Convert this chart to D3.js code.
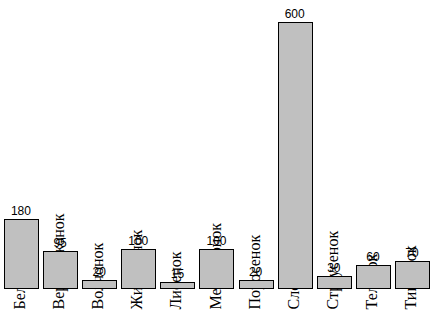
<!DOCTYPE html>
<html>
<head>
<meta charset="utf-8">
<script src="https://cdn.jsdelivr.net/npm/d3@7/dist/d3.min.js"></script>
<style>
  body { margin: 0; background: #fff; }
</style>
</head>
<body>
<div id="chart"></div>
<script>
var names = ['Бельчонок', 'Верблюжонок', 'Волчонок', 'Жирафенок', 'Лисенок', 'Медвежонок',
             'Поросенок', 'Слоненок', 'Страусенок', 'Теленок', 'Тигренок'];
var values = [180, 95, 20, 100, 15, 100, 20, 600, 30, 60, 70];

var svgWidth = 435,
    svgHeight = 327,
    base = 287.5;

var svg = d3.select('#chart').append('svg')
    .attr('width', svgWidth)
    .attr('height', svgHeight);

var x = d3.scaleBand()
    .domain(names)
    .range([2, 431])
    .paddingInner(0.13)
    .paddingOuter(0.05);

// bars are not strictly proportional in the picture, so a piecewise scale
var y = d3.scaleLinear()
    .domain([0, 180, 600])
    .range([base, 218.5, 21.5]);

var data = names.map(function (d, i) {
    return { name: d, value: values[i] };
});

// category labels first, bars are painted over them
svg.selectAll('.cat')
    .data(data)
    .enter().append('text')
    .attr('class', 'cat')
    .attr('transform', function (d) {
        return 'translate(' + (x(d.name) + x.bandwidth() / 2) + ',' + (base + 22) + ') rotate(-90)';
    })
    .attr('dy', '0.25em')
    .style('font-family', '"Liberation Serif", "Times New Roman", serif')
    .style('font-size', '16px')
    .style('fill', '#000')
    .text(function (d) { return d.name; });

svg.selectAll('.bar')
    .data(data)
    .enter().append('rect')
    .attr('class', 'bar')
    .attr('x', function (d) { return Math.round(x(d.name)) + 0.5; })
    .attr('y', function (d) { return Math.round(y(d.value)) + 0.5; })
    .attr('width', Math.round(x.bandwidth()))
    .attr('height', function (d) { return Math.round(base) - Math.round(y(d.value)); })
    .attr('fill', '#c0c0c0')
    .attr('stroke', '#000')
    .attr('stroke-width', 1)
    .style('shape-rendering', 'crispEdges');

svg.selectAll('.val')
    .data(data)
    .enter().append('text')
    .attr('class', 'val')
    .attr('x', function (d) { return x(d.name) + x.bandwidth() / 2; })
    .attr('y', function (d) { return y(d.value) - 4; })
    .attr('text-anchor', 'middle')
    .style('font-family', '"Liberation Sans", Arial, sans-serif')
    .style('font-size', '12px')
    .style('fill', '#000')
    .text(function (d) { return d.value; });
</script>
</body>
</html>
